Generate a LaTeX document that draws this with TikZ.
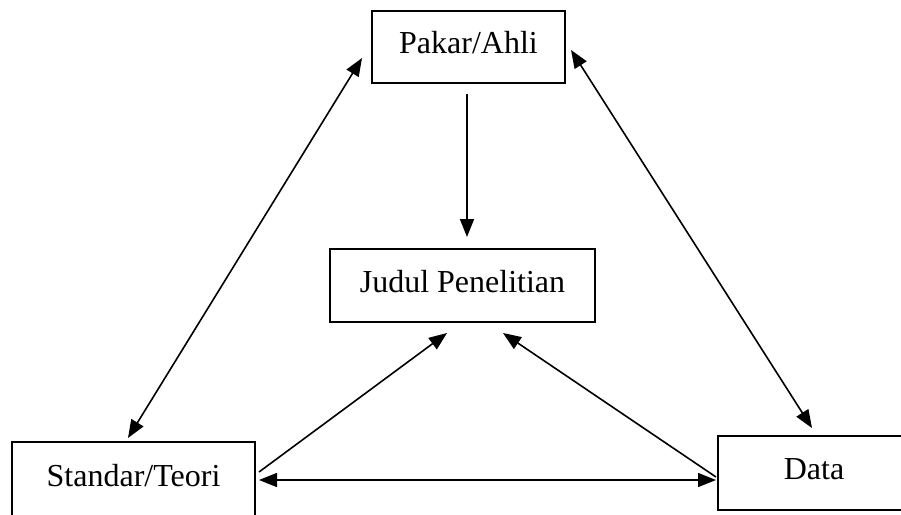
\documentclass[tikz,border=0pt]{standalone}
\usepackage{fontspec}
\setmainfont{Liberation Serif}
\usepackage{tikz}
\usetikzlibrary{arrows.meta, positioning}
\tikzset{
    boxnode/.style = {draw, rectangle, line width=2pt, inner sep=0pt,
      text height=22pt, text depth=9pt, font=\fontsize{32}{38}\selectfont},
    connect/.style = {black, line width=1.6pt, -{Triangle[length=18pt, width=14pt]}},
    biconnect/.style = {black, line width=1.6pt,
      {Triangle[length=18pt, width=14pt]}-{Triangle[length=18pt, width=14pt]}}
}

\begin{document}
\begin{tikzpicture}[x=1pt, y=-1pt]
\useasboundingbox (0,0) rectangle (901,514);
\node [boxnode, name=Pakar, minimum width=193pt, minimum height=72pt] at (468.5,47) {Pakar/Ahli};
\node [boxnode, name=Judul, minimum width=265pt, minimum height=73pt] at (462.5,285.5) {Judul Penelitian};
\node [boxnode, name=Standar, minimum width=243pt, minimum height=76pt] at (133.5,480) {Standar/Teori};
\node [boxnode, name=Data, minimum width=192pt, minimum height=74pt] at (814,473) {Data};

\draw ([xshift=-1.5pt, yshift=-10pt]Pakar.south) edge[connect] ([xshift=4.5pt, yshift=11pt]Judul.north);
\draw ([xshift=-5.5pt, yshift=3pt]Standar.north) edge[biconnect] ([xshift=-9pt, yshift=-11pt]Pakar.west);
\draw ([xshift=5pt, yshift=-3pt]Pakar.east) edge[biconnect] ([xshift=-2pt, yshift=7pt]Data.north);
\draw ([xshift=3pt, yshift=8pt]Standar.east) edge[connect] ([xshift=-15.5pt, yshift=-10pt]Judul.south);
\draw ([xshift=-1pt, yshift=-4pt]Data.west) edge[connect] ([xshift=40.5pt, yshift=-10pt]Judul.south);
\draw ([xshift=3pt]Standar.east) edge[biconnect] ([xshift=-1pt, yshift=-7pt]Data.west);
\end{tikzpicture}
\end{document}
